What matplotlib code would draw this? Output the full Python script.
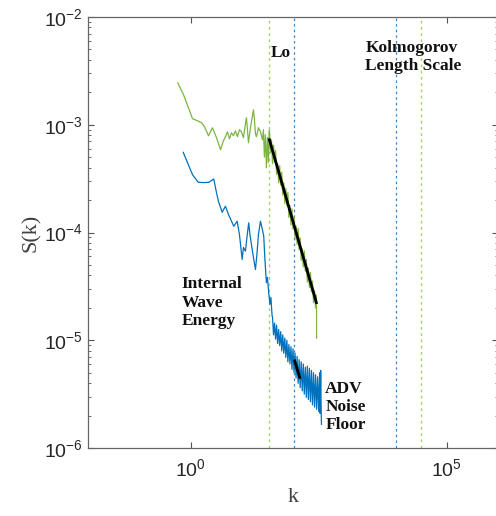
import numpy as np
import matplotlib.pyplot as plt
from matplotlib.ticker import LogLocator, NullLocator, LogFormatterMathtext

# Datos (exponentes log10)
logk_green = [-0.248, -0.136, -0.039, 0.039, 0.136, 0.214, 0.273, 0.351, 0.429, 0.507,
              0.585, 0.643, 0.682, 0.721, 0.760, 0.799, 0.838, 0.877, 0.916, 0.955,
              0.994, 1.033, 1.072, 1.092, 1.111, 1.131, 1.170, 1.209, 1.228, 1.248,
              1.267, 1.287, 1.326, 1.365, 1.404, 1.423, 1.442, 1.462, 1.481, 1.501,
              1.520, 1.53,
              1.54, 1.56, 1.58, 1.60, 1.62, 1.64, 1.66, 1.68, 1.70, 1.72, 1.74,
              1.76, 1.78, 1.80, 1.82, 1.84, 1.86, 1.88, 1.90, 1.92, 1.94, 1.96,
              1.98, 2.00, 2.02, 2.04, 2.06, 2.08, 2.10, 2.12, 2.14, 2.16, 2.18,
              2.20, 2.22, 2.24, 2.26, 2.28, 2.30, 2.32, 2.34, 2.36, 2.38, 2.40,
              2.42, 2.44, 2.45, 2.46, 2.46]
logS_green = [-2.611, -2.722, -2.843, -2.944, -2.963, -2.981, -3.019, -3.102, -3.028, -3.120,
              -3.231, -3.148, -3.111, -3.065, -3.130, -3.074, -3.102, -3.056, -3.111, -3.046,
              -3.065, -3.120, -2.991, -2.935, -3.046, -3.167, -3.028, -2.917, -2.861, -2.954,
              -3.083, -3.111, -3.028, -3.065, -3.139, -3.046, -3.300, -3.093, -3.400, -3.120,
              -3.350, -3.10,
              -3.05, -3.26, -3.14, -3.36, -3.19, -3.35, -3.24, -3.46, -3.36, -3.54, -3.38,
              -3.56, -3.44, -3.65, -3.54, -3.73, -3.59, -3.75, -3.63, -3.86, -3.75, -3.93,
              -3.78, -3.97, -3.85, -4.06, -3.94, -4.11, -3.96, -4.16, -4.05, -4.26, -4.15,
              -4.32, -4.17, -4.36, -4.25, -4.46, -4.33, -4.51, -4.37, -4.55, -4.45, -4.65,
              -4.54, -4.70, -4.58, -4.72, -4.98]

logk_blue = [-0.142, -0.058, 0.039, 0.150, 0.253, 0.357, 0.454, 0.507, 0.546, 0.618,
             0.682, 0.741, 0.844, 0.910, 0.955, 1.008, 1.033, 1.072, 1.101, 1.136,
             1.160, 1.203, 1.228, 1.267, 1.296, 1.326, 1.365, 1.394, 1.429, 1.452,
             1.481, 1.501, 1.526, 1.550, 1.569, 1.592,
             1.60, 1.62, 1.64, 1.66, 1.68, 1.70, 1.72, 1.74, 1.76, 1.78, 1.80,
             1.82, 1.84, 1.86, 1.88, 1.90, 1.92, 1.94, 1.96, 1.98, 2.00, 2.02,
             2.04, 2.06, 2.08, 2.10, 2.12, 2.14, 2.16, 2.18, 2.20, 2.22, 2.24,
             2.26, 2.28, 2.30, 2.32, 2.34, 2.36, 2.38, 2.40, 2.42, 2.44, 2.46,
             2.48, 2.50, 2.52, 2.53, 2.54, 2.55, 2.555]
logS_blue = [-3.256, -3.352, -3.463, -3.534, -3.537, -3.534, -3.503, -3.630, -3.713, -3.812,
             -3.756, -3.833, -3.942, -3.895, -4.019, -4.250, -4.139, -4.173, -4.046, -3.910,
             -4.019, -4.157, -4.231, -4.343, -4.204, -4.019, -3.895, -3.954, -4.034, -4.250,
             -4.466, -4.417, -4.558, -4.667, -4.602, -4.775,
             -4.78, -4.95, -4.84, -4.99, -4.86, -5.03, -4.90, -5.05, -4.92, -5.10, -4.95,
             -5.12, -4.98, -5.16, -5.00, -5.20, -5.04, -5.22, -5.06, -5.27, -5.08, -5.30,
             -5.12, -5.35, -5.15, -5.40, -5.18, -5.44, -5.20, -5.47, -5.22, -5.50, -5.25,
             -5.53, -5.24, -5.55, -5.26, -5.57, -5.28, -5.60, -5.30, -5.62, -5.32, -5.64,
             -5.34, -5.66, -5.30, -5.68, -5.28, -5.66, -5.78]

# Ajustes -5/3 (extremos)
logk_fit_green = [1.54, 2.456]
logS_fit_green = [-3.139, -4.651]
logk_fit_blue = [2.033, 2.131]
logS_fit_blue = [-5.192, -5.345]

# Escalas verticales
logk_lines_green = [1.526, 4.50]
logk_lines_blue = [2.014, 4.0]

verde = '#7DB544'
verde_claro = '#A3D466'
azul = '#0072BD'

fig = plt.figure(figsize=(4.96, 5.16), dpi=100)
ax = fig.add_axes([88/496, 68/516, 410/496, 431/516])

for lk in logk_lines_green:
    ax.axvline(10**lk, color=verde_claro, lw=1.0, ls=(0, (2, 2.5)))
for lk in logk_lines_blue:
    ax.axvline(10**lk, color='#3A86C8', lw=0.9, ls=(0, (2, 2.5)))

ax.plot(10**np.array(logk_green), 10**np.array(logS_green), color=verde, lw=0.9)
ax.plot(10**np.array(logk_blue), 10**np.array(logS_blue), color=azul, lw=0.9)
ax.plot(10**np.array(logk_fit_green), 10**np.array(logS_fit_green), color='black', lw=2.0)
ax.plot(10**np.array(logk_fit_blue), 10**np.array(logS_fit_blue), color='black', lw=2.0)

ax.set_xscale('log')
ax.set_yscale('log')
ax.set_xlim(1e-2, 1e6)
ax.set_ylim(1e-6, 1e-2)

ax.set_xticks([1, 1e5])
ax.xaxis.set_minor_locator(NullLocator())
ax.yaxis.set_major_locator(LogLocator(base=10, numticks=10))
ax.yaxis.set_minor_locator(LogLocator(base=10, subs=np.arange(2, 10), numticks=10))
ax.xaxis.set_major_formatter(LogFormatterMathtext())
ax.yaxis.set_major_formatter(LogFormatterMathtext())

ax.tick_params(which='both', direction='in', top=True, right=True, colors='#555555',
               labelcolor='#262626', labelsize=14)
ax.tick_params(which='major', length=4, width=0.8)
ax.tick_params(which='minor', length=2.5, width=0.6)
ax.tick_params(axis='x', pad=7)
for s in ax.spines.values():
    s.set_color('#666666')
    s.set_linewidth(0.9)

for lab in ax.get_xticklabels() + ax.get_yticklabels():
    lab.set_family('Liberation Sans')

ax.set_xlabel('k', family='Liberation Serif', fontsize=16, color='#404040', labelpad=6)
ax.set_ylabel('S(k)', family='Liberation Serif', fontsize=16, color='#404040', labelpad=2)

# Textos
txt = dict(family='Liberation Serif', fontweight='bold', fontsize=12.5, color='#111111',
           ha='left', va='center', multialignment='left', linespacing=1.2)
ax.text(10**1.56, 10**-2.33, 'Lo', **txt)
ax.text(10**3.41, 10**-2.37, 'Kolmogorov\nLength Scale', **txt)
ax.text(10**-0.18, 10**-4.65, 'Internal\nWave\nEnergy', **txt)
ax.text(10**2.63, 10**-5.62, 'ADV\nNoise\nFloor', **txt)

plt.savefig('out.png', dpi=100)
